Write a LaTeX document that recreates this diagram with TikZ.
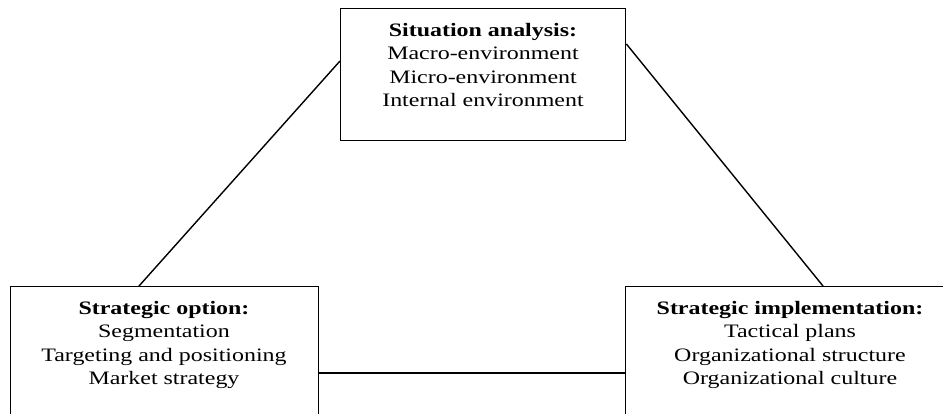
\documentclass[tikz,border=0pt]{standalone}
\usepackage{fontspec}
\setmainfont[FakeStretch=1.26]{Liberation Serif}
\usetikzlibrary{calc}
\begin{document}
\begin{tikzpicture}[x=1pt,y=1pt,
  box/.style={draw, line width=1.4pt, inner sep=0pt, anchor=north west},
  txt/.style={align=center, font=\fontsize{19}{23.5}\selectfont, anchor=north, inner sep=0pt},
  link/.style={line width=1.4pt}]
\useasboundingbox (0,0) rectangle (943,-414);
\node[box, minimum width=285pt, minimum height=132pt] (sit) at (340,-8) {};
\node[box, minimum width=308pt, minimum height=160pt] (opt) at (10,-286) {};
\node[box, minimum width=330pt, minimum height=160pt] (imp) at (625,-286) {};
\node[txt] (sitT) at (483,-23) {\textbf{Situation analysis:}\\Macro-environment\\Micro-environment\\Internal environment};
\node[txt] (optT) at (164,-301) {\textbf{Strategic option:}\\Segmentation\\Targeting and positioning\\Market strategy};
\node[txt] (impT) at (790,-301) {\textbf{Strategic implementation:}\\Tactical plans\\Organizational structure\\Organizational culture};
\draw[link] ($(opt.north west)+(129,0)$) -- ($(sit.north west)+(0,-53)$);
\draw[link] ($(sit.north east)+(0,-36)$) -- ($(imp.north west)+(198,0)$);
\draw[link] ($(opt.north east)+(0,-87)$) -- ($(imp.north west)+(0,-87)$);
\end{tikzpicture}
\end{document}
